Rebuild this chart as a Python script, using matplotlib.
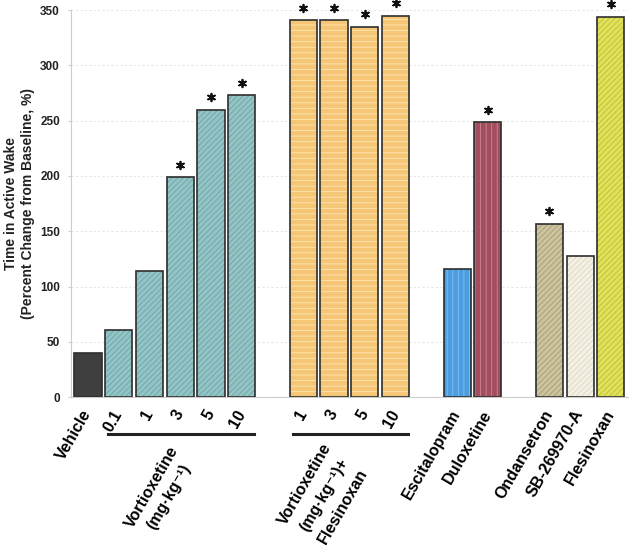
import matplotlib
matplotlib.use("Agg")
import matplotlib.pyplot as plt
from matplotlib.transforms import blended_transform_factory

plt.rcParams['font.family'] = ['Liberation Sans', 'DejaVu Sans']

# ---- data ----
labels = ["Vehicle", "0.1", "1", "3", "5", "10", "1", "3", "5", "10",
          "Escitalopram", "Duloxetine", "Ondansetron", "SB-269970-A", "Flesinoxan"]
values = [40, 61, 114, 199, 260, 273, 341, 341, 335, 345,
          116, 249, 157, 128, 344]
significant = [False, False, False, True, True, True, True, True, True, True,
               False, True, True, False, True]
positions = [0, 1, 2, 3, 4, 5, 7, 8, 9, 10, 12, 13, 15, 16, 17]
groups = [("Vortioxetine\n(mg·kg⁻¹)", 1, 5),
          ("Vortioxetine\n(mg·kg⁻¹)+\nFlesinoxan", 7, 10)]
yticks = [0, 50, 100, 150, 200, 250, 300, 350]

# ---- styles ----
face = ["#3f3f3f"] + ["#93c4c6"] * 5 + ["#f5c676"] * 4 + \
       ["#4b9de0", "#a34e5e", "#cdc49e", "#f3f0e4", "#e2e15a"]
hcol = ["#3f3f3f"] + ["#6fa3a5"] * 5 + ["#fde6b4"] * 4 + \
       ["#86c0f0", "#c98894", "#a39a78", "#dcd8c6", "#bebc3c"]
hatch = [None] + ["//////"] * 5 + ["---"] * 4 + ["|||", "|||", "//////", "//////", "//////"]

fig = plt.figure(figsize=(6.29, 5.5), dpi=100)
ax = fig.add_axes([0.113, 0.2776, 0.885, 0.7042])
plt.rcParams['hatch.linewidth'] = 0.6

w = 0.88
for x, v, fc, hc, h in zip(positions, values, face, hcol, hatch):
    ax.bar(x, v, width=w, color=fc, edgecolor=hc, hatch=h, linewidth=0, zorder=2)
    ax.bar(x, v, width=w, fill=False, edgecolor="#2e2e2e", linewidth=1.2, zorder=3)

sx = [x for x, s in zip(positions, significant) if s]
sy = [v + 11 for v, s in zip(values, significant) if s]
ax.scatter(sx, sy, marker=(6, 2, 0), s=30, color="#111111", linewidths=1.3,
           clip_on=False, zorder=4)

ax.set_xlim(-0.55, 17.55)
ax.set_ylim(0, 350)
ax.set_yticks(yticks)
ax.set_yticklabels([str(t) for t in yticks], fontsize=8.5, fontweight="bold", color="#222222")
ax.tick_params(axis="y", length=2, color="#cccccc", pad=6)
ax.grid(axis="y", color="#e6e6e6", linestyle=(0, (2, 2)), linewidth=0.8, zorder=0)
ax.set_axisbelow(True)
for sp in ["top", "right"]:
    ax.spines[sp].set_visible(False)
ax.spines["left"].set_color("#cccccc")
ax.spines["bottom"].set_color("#cccccc")

ax.set_xticks(positions)
ax.set_xticklabels(labels, rotation=60, ha="right", va="center",
                   rotation_mode="anchor", fontsize=11.5, fontweight="bold")
ax.tick_params(axis="x", length=0, pad=10)

ax.set_ylabel("Time in Active Wake\n(Percent Change from Baseline, %)",
              fontsize=10, fontweight="bold", color="#222222", labelpad=4)

trans = blended_transform_factory(ax.transData, ax.transAxes)
for text, a, b in groups:
    ax.plot([a - 0.35, b + 0.4], [-0.095, -0.095], color="#222222", linewidth=2.2,
            transform=trans, clip_on=False)

fig.text(160 / 629, 1 - 492 / 550, groups[0][0], rotation=60, ha="center", va="center",
         fontsize=11.5, fontweight="bold", linespacing=1.4, multialignment="center")
fig.text(324 / 629, 1 - 495 / 550, groups[1][0], rotation=60, ha="center", va="center",
         fontsize=11.5, fontweight="bold", linespacing=1.6, multialignment="center")

fig.savefig("out.png", dpi=100)
